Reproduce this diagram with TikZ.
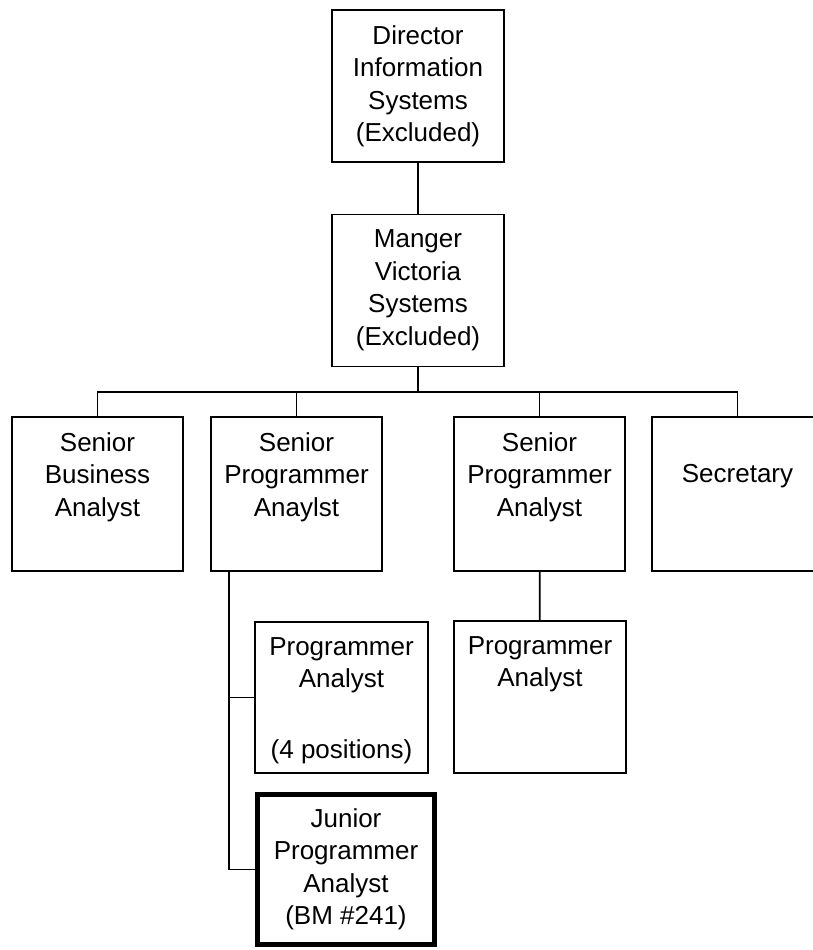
\documentclass[tikz,border=0pt]{standalone}
\usepackage{fontspec}
\setmainfont{Liberation Sans}
\begin{document}
\begin{tikzpicture}[x=1pt, y=-1pt, line join=miter, line cap=rect,
		font=\fontsize{26}{32.5}\selectfont,
		post/.style={draw, line width=1.8pt, minimum width=172pt, minimum height=152pt, inner sep=0pt},
		txt/.style={anchor=north, align=center, inner sep=0pt, yshift=-16pt},
		link/.style={line width=1.8pt}]
	\useasboundingbox (0,0) rectangle (812,950);
	% top levels
	\node[post, label={[txt, name=dirt]north:Director\\Information\\Systems\\(Excluded)}] (dir) at (418,86) {};
	\node[post, label={[txt, name=mgrt]north:Manger\\Victoria\\Systems\\(Excluded)}] (mgr) at (418,290.5) {};
	% row of senior posts
	\node[post, minimum width=171pt, minimum height=154pt, label={[txt, name=sbat]north:Senior\\Business\\Analyst}] (sba) at (97.5,494) {};
	\node[post, minimum width=171pt, minimum height=154pt, label={[txt, name=spaat]north:Senior\\Programmer\\Anaylst}] (spaa) at (296.5,494) {};
	\node[post, minimum width=171pt, minimum height=154pt, label={[txt, name=spabt]north:Senior\\Programmer\\Analyst}] (spab) at (539.5,494) {};
	\node[post, minimum width=171pt, minimum height=154pt, label={[txt, name=sect, yshift=-32.5pt]north:Secretary}] (sec) at (737.5,494) {};
	% lower posts
	\node[post, minimum width=173pt, minimum height=151pt, label={[txt, name=paat]north:Programmer\\Analyst\\[38pt](4 positions)}] (paa) at (341.5,697.5) {};
	\node[post, minimum height=152pt, label={[txt, name=pabt]north:Programmer\\Analyst}] (pab) at (540,697) {};
	\node[post, line width=5pt, minimum width=177pt, minimum height=150pt, label={[txt, name=jrt]north:Junior\\Programmer\\Analyst\\(BM \#241)}] (jr) at (346,869.5) {};
	% connectors
	\coordinate (bus) at (418,392);
	\coordinate (trunk) at ([xshift=-67.5pt]spaa.south);
	\draw[link] (dir) -- (mgr);
	\draw[link] (mgr) -- (bus);
	\draw[link] (sba.north) -- (sba.north |- bus) -- (sec.north |- bus) -- (sec.north);
	\draw[link] (spaa.north) -- (spaa.north |- bus);
	\draw[link] (spab.north) -- (spab.north |- bus);
	\draw[link] (spab) -- (pab);
	\draw[link] (trunk) |- (jr.west);
	\draw[link] (trunk |- paa.west) -- (paa.west);
\end{tikzpicture}
\end{document}
